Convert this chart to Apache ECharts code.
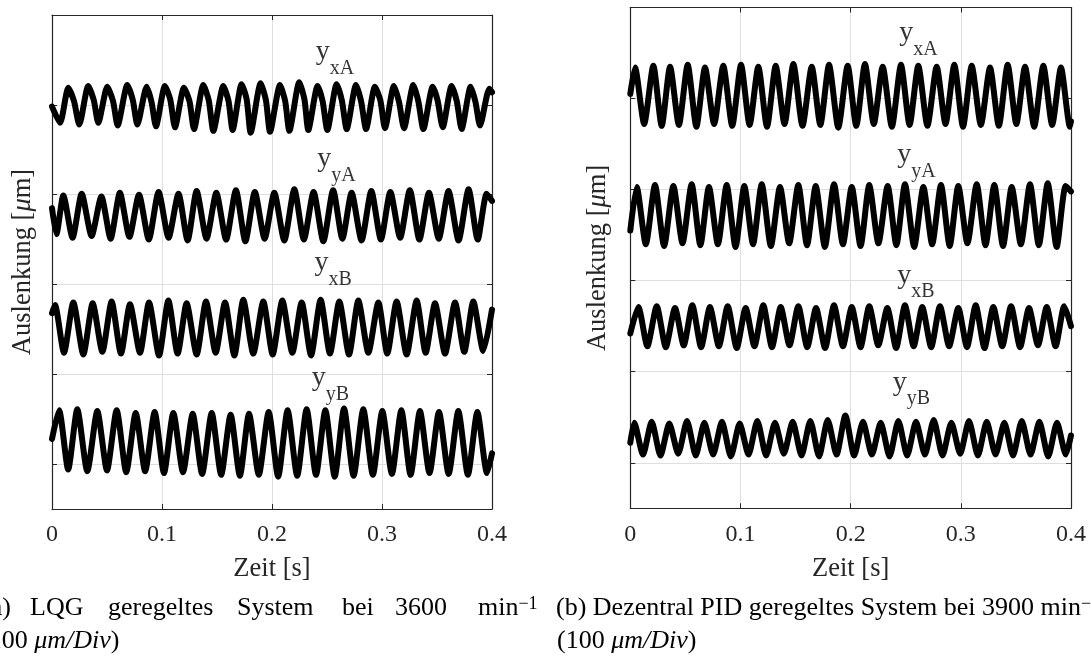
<!DOCTYPE html>
<html><head><meta charset="utf-8">
<script src="https://cdn.jsdelivr.net/npm/echarts@6/dist/echarts.min.js"></script>
<style>html,body{margin:0;padding:0;background:#fff}#c{width:1091px;height:657px}</style>
</head><body><div id="c"></div><script>
// ---------- data ----------
const X_MIN = 0, X_MAX = 0.4, X_STEP = 0.1;
const xTickLabels = ['0', '0.1', '0.2', '0.3', '0.4'];
const Y_MIN = -50, Y_MAX = 500;
const labelSubs = ['xA', 'yA', 'xB', 'yB'];
const leftLabelPos  = [[0.2573, 459.5], [0.2586, 340.5], [0.2555, 223.8], [0.2532, 96.0]];
const rightLabelPos = [[0.2616, 472.0], [0.2598, 338.0], [0.2593, 206.0], [0.2552, 88.5]];

// (a) LQG, 3600 1/min
const L_xA_t = [0, 0.0073,0.0148,0.0200, 0.0248,0.0330,0.0380, 0.0421,0.0503,0.0555, 0.0597,0.0685,0.0735, 0.0776,0.0861,0.0905, 0.0945,0.1027,0.1075, 0.1118,0.1200,0.1250, 0.1291,0.1376,0.1425, 0.1467,0.1558,0.1605, 0.1642,0.1724,0.1770, 0.1806,0.1897,0.1945, 0.1982,0.2073,0.2120, 0.2158,0.2248,0.2295, 0.2330,0.2415,0.2460, 0.2503,0.2588,0.2635, 0.2679,0.2764,0.2810, 0.2855,0.2936,0.2985, 0.3027,0.3109,0.3155, 0.3200,0.3285,0.3330, 0.3376,0.3461,0.3505, 0.3552,0.3633,0.3680, 0.3724,0.3806,0.3850, 0.3891,0.3976,0.4000];
const L_xA_v = [398, 380,419,404, 378,421,405, 380,420,404, 377,422,405, 378,420,403, 376,421,406, 375,419,404, 373,422,405, 371,421,404, 372,423,406, 369,424,405, 370,422,404, 371,425,406, 372,421,404, 372,423,405, 373,422,404, 373,420,405, 374,421,403, 374,422,404, 373,420,405, 375,421,404, 373,420,403, 377,418,414];

const L_yA_t = [0, 0.0040, 0.0103,0.0187, 0.0270,0.0360, 0.0449,0.0533, 0.0617,0.0704, 0.0791,0.0880, 0.0969,0.1060, 0.1150,0.1233, 0.1315,0.1405, 0.1494,0.1583, 0.1672,0.1758, 0.1844,0.1933, 0.2021,0.2112, 0.2203,0.2290, 0.2378,0.2467, 0.2556,0.2640, 0.2724,0.2814, 0.2903,0.2990, 0.3076,0.3165, 0.3253,0.3340, 0.3427,0.3516, 0.3605,0.3696, 0.3787,0.3870, 0.3952, 0.4000];
const L_yA_v = [285, 256, 299,252, 301,254, 298,251, 302,253, 300,250, 303,252, 301,249, 304,251, 302,250, 305,248, 303,251, 302,249, 306,250, 303,248, 305,251, 302,249, 304,250, 303,252, 305,250, 302,251, 304,249, 306,250, 301, 293];

const L_xB_t = [0, 0.0027, 0.0109,0.0194, 0.0285,0.0370, 0.0458,0.0542, 0.0627,0.0709, 0.0800,0.0882, 0.0973,0.1058, 0.1142,0.1224, 0.1315,0.1400, 0.1488,0.1573, 0.1658,0.1739, 0.1830,0.1921, 0.2006,0.2094, 0.2185,0.2270, 0.2355,0.2442, 0.2527,0.2612, 0.2700,0.2785, 0.2876,0.2967, 0.3048,0.3133, 0.3224,0.3315, 0.3397,0.3482, 0.3573,0.3664, 0.3748,0.3830, 0.3921, 0.4000];
const L_xB_v = [168, 177, 124,180, 122,179, 125,181, 123,178, 124,180, 121,182, 123,179, 122,181, 124,180, 121,183, 123,181, 122,182, 124,180, 121,183, 123,181, 122,182, 124,180, 123,181, 122,182, 124,179, 123,180, 125,181, 126, 172];

const L_yB_t = [0, 0.0064,0.0147, 0.0230,0.0321, 0.0412,0.0500, 0.0588,0.0675, 0.0761,0.0847, 0.0933,0.1018, 0.1103,0.1191, 0.1279,0.1365, 0.1452,0.1538, 0.1624,0.1708, 0.1791,0.1880, 0.1970,0.2056, 0.2142,0.2229, 0.2315,0.2400, 0.2485,0.2570, 0.2655,0.2742, 0.2830,0.2917, 0.3003,0.3090, 0.3176,0.3260, 0.3345,0.3432, 0.3518,0.3606, 0.3694,0.3781, 0.3867,0.3955, 0.4000];
const L_yB_v = [28, 60,-6, 61,-8, 59,-7, 60,-9, 57,-8, 58,-10, 57,-9, 56,-11, 57,-12, 55,-13, 56,-12, 58,-14, 60,-13, 61,-12, 60,-14, 62,-13, 61,-12, 59,-11, 60,-12, 59,-10, 58,-11, 59,-12, 58,-10, 12];

// (b) dezentral PID, 3900 1/min
const R_xA_t = [0, 0.0043,0.0126, 0.0209,0.0285, 0.0361,0.0441, 0.0521,0.0600, 0.0678,0.0761, 0.0844,0.0925, 0.1005,0.1083, 0.1162,0.1241, 0.1320,0.1400, 0.1480,0.1563, 0.1647,0.1725, 0.1804,0.1888, 0.1973,0.2051, 0.2130,0.2210, 0.2291,0.2374, 0.2457,0.2535, 0.2614,0.2697, 0.2781,0.2861, 0.2941,0.3020, 0.3099,0.3182, 0.3265,0.3345, 0.3425,0.3504, 0.3583,0.3666, 0.3749,0.3829, 0.3909,0.3990, 0.4000];
const R_xA_v = [405, 434,372, 436,370, 435,371, 437,369, 434,372, 436,370, 437,371, 435,369, 436,372, 438,370, 435,371, 437,368, 436,370, 438,372, 435,369, 437,371, 436,370, 435,372, 437,369, 436,371, 434,370, 437,372, 435,369, 436,371, 434,369, 375];

const R_yA_t = [0, 0.0058,0.0141, 0.0224,0.0307, 0.0391,0.0474, 0.0557,0.0636, 0.0714,0.0795, 0.0875,0.0955, 0.1035,0.1114, 0.1193,0.1276, 0.1359,0.1442, 0.1525,0.1604, 0.1683,0.1766, 0.1849,0.1930, 0.2010,0.2090, 0.2169,0.2252, 0.2336,0.2415, 0.2493,0.2577, 0.2660,0.2740, 0.2820,0.2899, 0.2977,0.3060, 0.3144,0.3224, 0.3304,0.3383, 0.3462,0.3545, 0.3628,0.3708, 0.3789,0.3870, 0.3952, 0.4000];
const R_yA_v = [255, 303,240, 305,238, 304,241, 306,239, 303,240, 305,237, 304,240, 306,238, 303,241, 305,239, 304,237, 306,240, 303,238, 305,241, 304,239, 306,237, 303,240, 305,238, 304,241, 306,239, 305,238, 303,240, 306,239, 307,237, 304, 298];

const R_xB_t = [0, 0.0073,0.0155, 0.0240,0.0322, 0.0406,0.0485, 0.0563,0.0643, 0.0723,0.0804, 0.0884,0.0966, 0.1047,0.1127, 0.1207,0.1286, 0.1365,0.1445, 0.1525,0.1606, 0.1686,0.1768, 0.1849,0.1930, 0.2010,0.2090, 0.2169,0.2251, 0.2333,0.2413, 0.2493,0.2572, 0.2650,0.2731, 0.2811,0.2894, 0.2977,0.3056, 0.3135,0.3215, 0.3295,0.3376, 0.3456,0.3538, 0.3619,0.3700, 0.3780,0.3860, 0.3939, 0.4000];
const R_xB_v = [142, 171,128, 172,127, 170,129, 173,127, 171,128, 172,126, 170,128, 173,127, 171,129, 172,127, 170,126, 173,128, 171,127, 172,129, 170,126, 173,128, 171,127, 172,128, 170,127, 173,126, 171,128, 172,127, 170,129, 171,128, 172, 150];

const R_yB_t = [0, 0.0036,0.0115, 0.0194,0.0274, 0.0354,0.0435, 0.0515,0.0594, 0.0672,0.0752, 0.0832,0.0913, 0.0993,0.1073, 0.1153,0.1233, 0.1313,0.1394, 0.1474,0.1554, 0.1634,0.1713, 0.1792,0.1872, 0.1952,0.2032, 0.2112,0.2193, 0.2273,0.2353, 0.2433,0.2513, 0.2593,0.2674, 0.2754,0.2834, 0.2914,0.2994, 0.3074,0.3155, 0.3235,0.3315, 0.3395,0.3474, 0.3553,0.3633, 0.3713,0.3793, 0.3873,0.3953, 0.4000];
const R_yB_v = [22, 44,9, 45,8, 43,10, 46,8, 44,9, 45,7, 43,9, 46,8, 44,10, 45,8, 46,7, 47,9, 52,8, 45,9, 44,7, 46,8, 45,9, 47,8, 44,10, 46,8, 45,9, 44,8, 46,9, 45,7, 44,9, 30];

// ---------- chart ----------
const FONT = '"Liberation Serif", "Times New Roman", serif';
const AX = '#262626';
const GRIDC = '#dedede';
const zip = (t, v) => t.map((ti, i) => [ti, v[i]]);

function axesX(gi) {
  const common = {type: 'value', gridIndex: gi, min: X_MIN, max: X_MAX, interval: X_STEP,
    axisLine: {show: true, onZero: false, lineStyle: {color: AX, width: 1.2}},
    axisTick: {show: true, inside: true, length: 5, lineStyle: {color: AX, width: 1}}};
  return [
    Object.assign({}, common, {position: 'bottom',
      axisLabel: {show: true, margin: 14, color: AX, fontSize: 24, fontFamily: FONT,
        formatter: v => xTickLabels[Math.round((v - X_MIN) / X_STEP)]},
      splitLine: {show: true, lineStyle: {color: GRIDC, width: 1}},
      name: 'Zeit [s]', nameLocation: 'middle', nameGap: 47,
      nameTextStyle: {color: AX, fontSize: 26.5, fontFamily: FONT}}),
    Object.assign({}, common, {position: 'top', axisLabel: {show: false}, splitLine: {show: false}})
  ];
}
function axesY(gi, gap) {
  const common = {type: 'value', gridIndex: gi, min: Y_MIN, max: Y_MAX, splitNumber: 5,
    minInterval: 100, maxInterval: 100,
    axisLine: {show: true, onZero: false, lineStyle: {color: AX, width: 1.2}},
    axisTick: {show: true, inside: true, length: 5, lineStyle: {color: AX, width: 1}},
    axisLabel: {show: false}};
  return [
    Object.assign({}, common, {position: 'left',
      splitLine: {show: true, lineStyle: {color: GRIDC, width: 1}},
      name: '{n|Auslenkung [}{i|μ}{n|m]}', nameLocation: 'middle', nameGap: gap,
      nameTextStyle: {color: AX, fontSize: 26.5, fontFamily: FONT,
        rich: {n: {fontSize: 26.5, fontFamily: FONT, color: AX},
               i: {fontSize: 26.5, fontFamily: FONT, fontStyle: 'italic', color: AX}}}}),
    Object.assign({}, common, {position: 'right', splitLine: {show: false}})
  ];
}
function lineSeries(ax, t, v) {
  return {type: 'line', xAxisIndex: ax, yAxisIndex: ax, data: zip(t, v),
    showSymbol: false, symbol: 'none', smooth: 0.22, silent: true,
    lineStyle: {color: '#000', width: 6, join: 'round', cap: 'round'}};
}
const labelRich = {
  m: {fontSize: 28, lineHeight: 28, fontFamily: FONT, color: '#000', verticalAlign: 'top'},
  s: {fontSize: 20, lineHeight: 20, fontFamily: FONT, color: '#000', verticalAlign: 'top', padding: [21, 0, 0, 0]}
};
function labelSeries(ax, pos) {
  return {type: 'scatter', xAxisIndex: ax, yAxisIndex: ax, symbolSize: 1, silent: true,
    itemStyle: {color: 'transparent'},
    data: pos.map((p, i) => ({value: p, label: {formatter: '{m|y}{s|' + labelSubs[i] + '}'}})),
    label: {show: true, position: 'inside', color: '#000', textBorderWidth: 0, rich: labelRich}};
}

const capRich = {
  n: {fontSize: 26, fontFamily: FONT, color: '#000', verticalAlign: 'top', lineHeight: 26},
  i: {fontSize: 26, fontFamily: FONT, fontStyle: 'italic', color: '#000', verticalAlign: 'top', lineHeight: 26},
  sup: {fontSize: 18, fontFamily: FONT, color: '#000', verticalAlign: 'top', lineHeight: 18}
};
function capText(x, y, txt) {
  return {type: 'text', x: x, y: y, silent: true,
    style: {text: txt, rich: capRich, font: '26px ' + FONT, fill: '#000',
      align: 'left', verticalAlign: 'top', textAlign: 'left', textVerticalAlign: 'top'}};
}

const chart = echarts.init(document.getElementById('c'), null, {renderer: 'canvas'});
const xs0 = axesX(0), xs1 = axesX(1);
const ys0 = axesY(0, 15), ys1 = axesY(1, 19);
chart.setOption({
  animation: false,
  backgroundColor: '#fff',
  textStyle: {fontFamily: FONT},
  grid: [
    {left: 52, top: 15, width: 440, height: 494, outerBoundsMode: 'none', containLabel: false},
    {left: 630.3, top: 7.5, width: 440.7, height: 500.8, outerBoundsMode: 'none', containLabel: false}
  ],
  xAxis: [xs0[0], xs0[1], xs1[0], xs1[1]],
  yAxis: [ys0[0], ys0[1], ys1[0], ys1[1]],
  series: [
    lineSeries(0, L_xA_t, L_xA_v), lineSeries(0, L_yA_t, L_yA_v),
    lineSeries(0, L_xB_t, L_xB_v), lineSeries(0, L_yB_t, L_yB_v),
    lineSeries(2, R_xA_t, R_xA_v), lineSeries(2, R_yA_t, R_yA_v),
    lineSeries(2, R_xB_t, R_xB_v), lineSeries(2, R_yB_t, R_yB_v),
    labelSeries(0, leftLabelPos), labelSeries(2, rightLabelPos)
  ],
  graphic: [
    capText(-18, 595, '{n|(a)}'),
    capText(30, 595, '{n|LQG}'),
    capText(108, 595, '{n|geregeltes}'),
    capText(237, 595, '{n|System}'),
    capText(342, 595, '{n|bei}'),
    capText(395, 595, '{n|3600}'),
    capText(478, 595, '{n|min}{sup|−1}'),
    capText(-20, 628, '{n|(100 }{i|μm/Div}{n|)}'),
    capText(556, 595, '{n|(b) Dezentral PID geregeltes System bei 3900 min}{sup|−1}'),
    capText(557, 628, '{n|(100 }{i|μm/Div}{n|)}')
  ]
});
</script></body></html>
